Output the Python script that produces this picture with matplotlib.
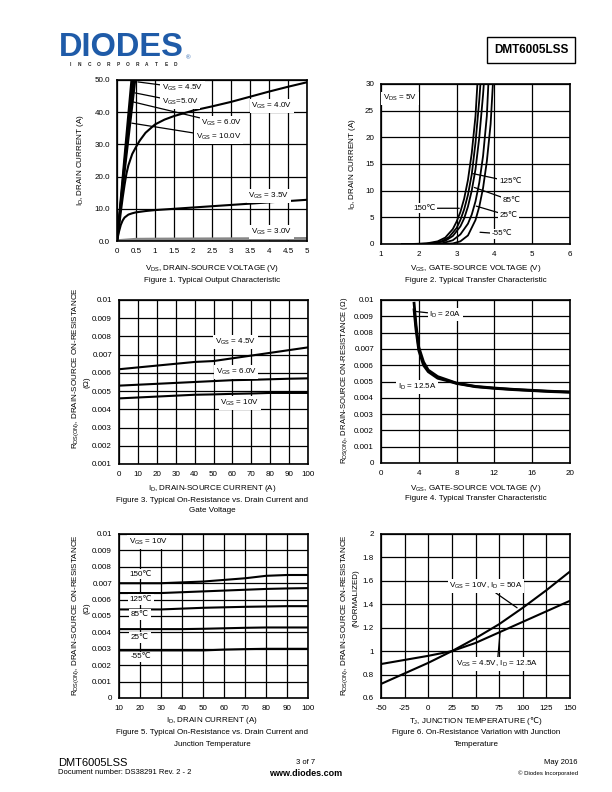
import numpy as np
import matplotlib
matplotlib.use("Agg")
from matplotlib import pyplot as plt

plt.rcParams["font.family"] = ["Liberation Sans", "DejaVu Sans"]
plt.rcParams["mathtext.fontset"] = "custom"
plt.rcParams["mathtext.rm"] = "Liberation Sans"
plt.rcParams["mathtext.it"] = "Liberation Sans:italic"
plt.rcParams["mathtext.bf"] = "Liberation Sans:bold"
plt.rcParams["mathtext.sf"] = "DejaVu Sans"
plt.rcParams["mathtext.default"] = "regular"

W, H = 612, 792
FS = 5.8

# ---------------- data ----------------
# Fig 1: output characteristic, ID vs VDS
f1_vds_10 = [0, 0.2, 0.38]
f1_id_10 = [0, 26.5, 50]
f1_vds_6 = [0, 0.2, 0.41]
f1_id_6 = [0, 24.5, 50]
f1_vds_5 = [0, 0.2, 0.44]
f1_id_5 = [0, 23, 50]
f1_vds_45 = [0, 0.2, 0.48]
f1_id_45 = [0, 21.5, 50]
f1_vds_4 = [0, 0.05, 0.1, 0.15, 0.2, 0.25, 0.3, 0.4, 0.5, 0.6, 0.75, 1.0, 1.25,
            1.5, 2.0, 2.5, 3.0, 3.5, 4.0, 4.5, 5.0]
f1_id_4 = [0, 4, 9, 13.5, 17.5, 21, 23.5, 27, 29.2, 31.2, 33.6, 36.2, 37.7,
           38.8, 40.5, 41.8, 43.2, 44.8, 46.4, 47.9, 49.3]
f1_vds_35 = [0, 0.05, 0.1, 0.15, 0.2, 0.3, 0.4, 0.5, 0.75, 1, 1.5, 2, 2.5, 3,
             3.5, 4, 4.5, 5]
f1_id_35 = [0, 2.8, 5, 6.4, 7.3, 8.2, 8.6, 8.9, 9.3, 9.6, 10.0, 10.4, 10.8,
            11.2, 11.6, 12.0, 12.4, 12.8]
f1_vds_3 = [0, 0.5, 1, 2, 3, 4, 5]
f1_id_3 = [0, 0.45, 0.5, 0.55, 0.6, 0.65, 0.7]

# Fig 2: transfer characteristic, ID vs VGS per temperature
f2_vgs_150 = [1.55, 1.8, 2.2, 2.5, 2.7, 2.9, 3.0, 3.1, 3.2, 3.3, 3.4, 3.5, 3.55]
f2_id_150 = [0, 0, 0.1, 0.5, 1.2, 2.8, 4.2, 6, 8.5, 12, 17, 24, 30]
f2_vgs_125 = [1.9, 2.3, 2.6, 2.8, 3.0, 3.1, 3.2, 3.3, 3.4, 3.5, 3.6, 3.63]
f2_id_125 = [0, 0.1, 0.5, 1.3, 3.0, 4.5, 6.5, 9.2, 13, 19, 27, 30]
f2_vgs_85 = [2.0, 2.4, 2.7, 2.9, 3.1, 3.2, 3.3, 3.4, 3.5, 3.6, 3.7, 3.72]
f2_id_85 = [0, 0.1, 0.6, 1.5, 3.3, 4.8, 7, 10, 14, 20, 28, 30]
f2_vgs_25 = [2.2, 2.6, 2.9, 3.1, 3.3, 3.4, 3.5, 3.6, 3.7, 3.8, 3.84]
f2_id_25 = [0, 0.1, 0.7, 1.8, 3.8, 5.5, 8, 11.5, 16.5, 24, 30]
f2_vgs_m55 = [2.5, 2.9, 3.1, 3.3, 3.5, 3.6, 3.7, 3.8, 3.9, 3.96]
f2_id_m55 = [0, 0.1, 0.5, 1.6, 4.5, 7, 10.5, 15.5, 22.5, 30]

# Fig 3: RDS(on) vs ID per VGS
f3_id = [0, 10, 20, 30, 40, 50, 60, 70, 80, 90, 100]
f3_r_45 = [0.0062, 0.0063, 0.0064, 0.0065, 0.0066, 0.00665, 0.0068, 0.00695,
           0.0071, 0.00725, 0.0074]
f3_r_6 = [0.0053, 0.00535, 0.0054, 0.00545, 0.0055, 0.00555, 0.0056, 0.00562,
          0.00565, 0.00568, 0.0057]
f3_r_10 = [0.0046, 0.00465, 0.0047, 0.00475, 0.0048, 0.00482, 0.00485, 0.00487,
           0.0049, 0.0049, 0.0049]

# Fig 4: RDS(on) vs VGS
f4_vgs = [3.5, 3.7, 4, 4.5, 5, 6, 7, 8, 10, 12, 14, 16, 18, 20]
f4_r_20 = [0.0098, 0.0085, 0.0071, 0.0062, 0.0057, 0.0053, 0.0051, 0.0049,
           0.0047, 0.0046, 0.00452, 0.00446, 0.0044, 0.00436]
f4_r_125 = [0.0094, 0.0082, 0.0069, 0.006, 0.0056, 0.0052, 0.00505, 0.00488,
            0.00468, 0.00458, 0.0045, 0.00444, 0.00438, 0.00434]

# Fig 5: RDS(on) vs ID per temperature
f5_id = [10, 20, 30, 40, 50, 60, 70, 80, 90, 100]
f5_r_150 = [0.0070, 0.0070, 0.0070, 0.00705, 0.0071, 0.0072, 0.0073, 0.00745,
            0.0075, 0.0075]
f5_r_125 = [0.0064, 0.0064, 0.0064, 0.00645, 0.0065, 0.00655, 0.0066, 0.00665,
            0.00668, 0.0067]
f5_r_85 = [0.0054, 0.0054, 0.0054, 0.00545, 0.0055, 0.00553, 0.00556, 0.00558,
           0.0056, 0.0056]
f5_r_25 = [0.0042, 0.0042, 0.0042, 0.0042, 0.00422, 0.00425, 0.00428, 0.0043,
           0.0043, 0.0043]
f5_r_m55 = [0.0029, 0.0029, 0.0029, 0.0029, 0.0029, 0.00295, 0.00298, 0.003,
            0.003, 0.003]

# Fig 6: normalized RDS(on) vs junction temperature
f6_tj = [-50, -25, 0, 25, 50, 75, 100, 125, 150]
f6_r_10v = [0.72, 0.81, 0.9, 1.0, 1.11, 1.23, 1.37, 1.52, 1.68]
f6_r_45v = [0.89, 0.925, 0.96, 1.0, 1.07, 1.16, 1.25, 1.34, 1.43]

# ---------------- helpers ----------------
fig = plt.figure(figsize=(W / 100, H / 100), dpi=100)


def px_axes(x0, y0, x1, y1):
    ax = fig.add_axes([x0 / W, 1 - y1 / H, (x1 - x0) / W, (y1 - y0) / H])
    ax.grid(True, color="black", lw=0.9)
    ax.set_axisbelow(True)
    ax.tick_params(length=0, pad=5, labelsize=FS)
    for s in ax.spines.values():
        s.set_linewidth(1.2)
    return ax


def ftext(x, y, s, **kw):
    kw.setdefault("fontsize", FS)
    kw.setdefault("ha", "center")
    kw.setdefault("va", "center")
    fig.text(x / W, 1 - y / H, s, **kw)


WB = dict(facecolor="white", edgecolor="none", pad=1.2)


def label(ax, s, xy, xytext=None):
    if xytext is None:
        ax.text(xy[0], xy[1], s, fontsize=FS, ha="center", va="center", bbox=WB)
    else:
        ax.annotate(s, xy=xy, xytext=xytext, fontsize=FS, ha="center",
                    va="center", bbox=WB,
                    arrowprops=dict(arrowstyle="-", lw=0.9, color="black",
                                    shrinkA=0, shrinkB=0))


# ---------------- Figure 1 ----------------
ax1 = px_axes(117, 80, 307, 241)
ax1.plot(f1_vds_3, f1_id_3, color="#888888", lw=2.5)
for vx, iy in [(f1_vds_10, f1_id_10), (f1_vds_6, f1_id_6), (f1_vds_5, f1_id_5),
               (f1_vds_45, f1_id_45), (f1_vds_4, f1_id_4), (f1_vds_35, f1_id_35)]:
    ax1.plot(vx, iy, color="black", lw=1.5)
ax1.set_xlim(0, 5)
ax1.set_ylim(0, 50)
ax1.set_xticks(np.arange(0, 5.01, 0.5))
ax1.set_xticklabels(["0", "0.5", "1", "1.5", "2", "2.5", "3", "3.5", "4", "4.5", "5"])
ax1.set_yticks(np.arange(0, 50.1, 10))
ax1.set_yticklabels(["0.0", "10.0", "20.0", "30.0", "40.0", "50.0"])
label(ax1, "V$_{GS}$ = 4.5V", (0.55, 49.4), (1.72, 47.6))
label(ax1, "V$_{GS}$=5.0V", (0.47, 46.0), (1.66, 43.2))
label(ax1, "V$_{GS}$ = 6.0V", (0.42, 43.2), (2.76, 36.6))
label(ax1, "V$_{GS}$ = 10.0V", (0.39, 36.6), (2.68, 32.3))
label(ax1, "V$_{GS}$ = 4.0V", (4.08, 41.9))
label(ax1, "V$_{GS}$ = 3.5V", (4.0, 14.0))
label(ax1, "V$_{GS}$ = 3.0V", (4.07, 2.8))
ftext(80, 160, "I$_D$, DRAIN CURRENT (A)", rotation=90)
ftext(212, 268, "V$_{DS}$, DRAIN-SOURCE VOLTAGE (V)")
ftext(212, 280, "Figure 1. Typical Output Characteristic")

# ---------------- Figure 2 ----------------
ax2 = px_axes(381, 84, 570, 244)
for vx, iy in [(f2_vgs_150, f2_id_150), (f2_vgs_125, f2_id_125),
               (f2_vgs_85, f2_id_85), (f2_vgs_25, f2_id_25),
               (f2_vgs_m55, f2_id_m55)]:
    ax2.plot(vx, iy, color="black", lw=1.3)
ax2.set_xlim(1, 6)
ax2.set_ylim(0, 30)
ax2.set_xticks(range(1, 7))
ax2.set_yticks(range(0, 31, 5))
label(ax2, "V$_{DS}$ = 5V", (1.5, 27.3))
label(ax2, "150℃", (3.07, 6.7), (2.15, 6.7))
label(ax2, "125℃", (3.43, 13.2), (4.42, 11.7))
label(ax2, "85℃", (3.47, 10.6), (4.46, 8.1))
label(ax2, "25℃", (3.52, 7.1), (4.38, 5.3))
label(ax2, "-55℃", (3.62, 2.2), (4.2, 1.9))
ftext(352, 164, "I$_D$, DRAIN CURRENT (A)", rotation=90)
ftext(476, 269, "V$_{GS}$, GATE-SOURCE VOLTAGE (V)")
ftext(476, 281, "Figure 2. Typical Transfer Characteristic")

# ---------------- Figure 3 ----------------
ax3 = px_axes(119, 300, 308, 464)
for r in (f3_r_45, f3_r_6, f3_r_10):
    ax3.plot(f3_id, r, color="black", lw=1.5)
ax3.set_xlim(0, 100)
ax3.set_ylim(0.001, 0.01)
ax3.set_xticks(range(0, 101, 10))
ax3.set_yticks(np.arange(0.001, 0.01001, 0.001))
ax3.set_yticklabels(["0.001", "0.002", "0.003", "0.004", "0.005", "0.006",
                     "0.007", "0.008", "0.009", "0.01"])
label(ax3, "V$_{GS}$ = 4.5V", (61.5, 0.0077))
label(ax3, "V$_{GS}$ = 6.0V", (62, 0.00605))
label(ax3, "V$_{GS}$ = 10V", (64, 0.00435))
ftext(76, 368, "R$_{DS(ON)}$, DRAIN-SOURCE ON-RESISTANCE", rotation=90)
ftext(87, 382, "(Ω)", rotation=90)
ftext(212, 489, "I$_D$, DRAIN-SOURCE CURRENT (A)")
ftext(212, 501, "Figure 3. Typical On-Resistance vs. Drain Current and")
ftext(212, 511, "Gate Voltage")

# ---------------- Figure 4 ----------------
ax4 = px_axes(381, 300, 570, 463)
ax4.plot(f4_vgs, f4_r_125, color="black", lw=2.0)
ax4.plot(f4_vgs, f4_r_20, color="black", lw=2.0)
ax4.set_xlim(0, 20)
ax4.set_ylim(0, 0.01)
ax4.set_xticks(range(0, 21, 4))
ax4.set_yticks(np.arange(0, 0.01001, 0.001))
ax4.set_yticklabels(["0", "0.001", "0.002", "0.003", "0.004", "0.005", "0.006",
                     "0.007", "0.008", "0.009", "0.01"])
label(ax4, "I$_D$ = 20A", (3.6, 0.0093), (6.8, 0.0091))
label(ax4, "I$_D$ = 12.5A", (3.8, 0.00466))
ftext(345, 380, "R$_{DS(ON)}$, DRAIN-SOURCE ON-RESISTANCE (Ω)", rotation=90,
      fontsize=5.5)
ftext(476, 488, "V$_{GS}$, GATE-SOURCE VOLTAGE (V)")
ftext(476, 499, "Figure 4. Typical Transfer Characteristic")

# ---------------- Figure 5 ----------------
ax5 = px_axes(119, 534, 308, 698)
for r in (f5_r_150, f5_r_125, f5_r_85, f5_r_25, f5_r_m55):
    ax5.plot(f5_id, r, color="black", lw=1.5)
ax5.set_xlim(10, 100)
ax5.set_ylim(0, 0.01)
ax5.set_xticks(range(10, 101, 10))
ax5.set_yticks(np.arange(0, 0.01001, 0.001))
ax5.set_yticklabels(["0", "0.001", "0.002", "0.003", "0.004", "0.005", "0.006",
                     "0.007", "0.008", "0.009", "0.01"])
label(ax5, "V$_{GS}$ = 10V", (24, 0.0095))
label(ax5, "150℃", (20.5, 0.00756))
label(ax5, "125℃", (20.5, 0.0060))
label(ax5, "85℃", (20.0, 0.0051))
label(ax5, "25℃", (20.0, 0.0037))
label(ax5, "-55℃", (20.5, 0.0025))
ftext(76, 615, "R$_{DS(ON)}$, DRAIN-SOURCE ON-RESISTANCE", rotation=90)
ftext(87, 608, "(Ω)", rotation=90)
ftext(212, 721, "I$_D$, DRAIN CURRENT (A)")
ftext(212, 733, "Figure 5. Typical On-Resistance vs. Drain Current and")
ftext(212, 744, "Junction Temperature")

# ---------------- Figure 6 ----------------
ax6 = px_axes(381, 534, 570, 698)
ax6.plot(f6_tj, f6_r_10v, color="black", lw=1.5)
ax6.plot(f6_tj, f6_r_45v, color="black", lw=1.5)
ax6.set_xlim(-50, 150)
ax6.set_ylim(0.6, 2.0)
ax6.set_xticks(range(-50, 151, 25))
ax6.set_xticklabels(["-50", "-25", "0", "25", "50", "75", "100", "125", "150"])
ax6.set_yticks(np.arange(0.6, 2.01, 0.2))
ax6.set_yticklabels(["0.6", "0.8", "1", "1.2", "1.4", "1.6", "1.8", "2"])
label(ax6, "V$_{GS}$ = 10V, I$_D$ = 50A", (94, 1.37), (61, 1.556))
label(ax6, "V$_{GS}$ = 4.5V, I$_D$ = 12.5A", (76, 1.16), (73, 0.89))
ftext(345, 615, "R$_{DS(ON)}$, DRAIN-SOURCE ON-RESISTANCE", rotation=90)
ftext(356, 598, "(NORMALIZED)", rotation=90)
ftext(476, 721, "T$_J$, JUNCTION TEMPERATURE ($\\mathsf{℃}$)")
ftext(476, 733, "Figure 6. On-Resistance Variation with Junction")
ftext(476, 744, "Temperature")

# ---------------- header / footer ----------------
ftext(59, 48, "DIODES", fontsize=23.5, fontweight="heavy", color="#1f5ba8",
      ha="left")
ftext(188, 58, "®", fontsize=4.5, color="#1f5ba8")
for i, ch in enumerate("INCORPORATED"):
    ftext(70 + i * 9.6, 65, ch, fontsize=3.4, fontweight="bold",
          color="#222222")
ftext(531, 50, "DMT6005LSS", fontsize=8.5, fontweight="bold",
      bbox=dict(facecolor="white", edgecolor="black", lw=1.0, pad=5))

ftext(58, 763, "DMT6005LSS", fontsize=8, ha="left")
ftext(58, 773, "Document number: DS38291 Rev. 2 - 2", fontsize=5.5, ha="left")
ftext(306, 763, "3 of 7", fontsize=5.5)
ftext(306, 773, "www.diodes.com", fontsize=6.5, fontweight="bold")
ftext(578, 763, "May 2016", fontsize=5.5, ha="right")
ftext(578, 773, "© Diodes Incorporated", fontsize=4.3, ha="right")

fig.savefig("out.png", dpi=100)
